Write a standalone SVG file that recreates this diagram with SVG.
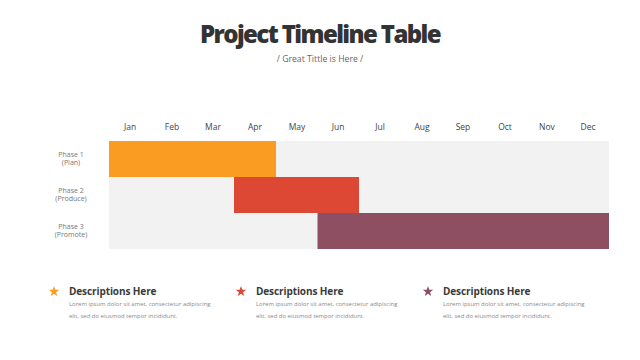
<svg xmlns="http://www.w3.org/2000/svg" width="640" height="360" viewBox="0 0 640 360">
<style>
.t{font-family:"Open Sans","Noto Sans",sans-serif}
.title{font-size:24px;font-weight:800;fill:#333;text-anchor:middle;letter-spacing:-1.6px}
.sub{font-size:8.7px;fill:#666;text-anchor:middle}
.mon{font-size:8.5px;fill:#444;text-anchor:middle}
.ph{font-size:7px;fill:#777;text-anchor:middle}
.dh{font-size:10px;font-weight:700;fill:#3a3a3a;letter-spacing:-0.1px}
.dt{font-size:5.95px;fill:#8a8a8a}
</style>
<defs>
<path id="star" d="M0,-5.5 L1.3,-1.8 L5.2,-1.7 L2.1,0.7 L3.2,4.5 L0,2.2 L-3.2,4.5 L-2.1,0.7 L-5.2,-1.7 L-1.3,-1.8 Z"/>
</defs>
<rect width="640" height="360" fill="#fff"/>
<g id="header">
<text class="t title" x="320" y="43">Project Timeline Table</text>
<text class="t sub" x="320" y="62">/ Great Tittle is Here /</text>
</g>
<g id="months">
<text class="t mon" x="130" y="130">Jan</text>
<text class="t mon" x="172" y="130">Feb</text>
<text class="t mon" x="213" y="130">Mar</text>
<text class="t mon" x="255" y="130">Apr</text>
<text class="t mon" x="297" y="130">May</text>
<text class="t mon" x="338" y="130">Jun</text>
<text class="t mon" x="380" y="130">Jul</text>
<text class="t mon" x="422" y="130">Aug</text>
<text class="t mon" x="463" y="130">Sep</text>
<text class="t mon" x="505" y="130">Oct</text>
<text class="t mon" x="547" y="130">Nov</text>
<text class="t mon" x="588" y="130">Dec</text>
</g>
<g id="grid">
<rect x="109" y="141" width="500" height="108" fill="#f2f2f2"/>
</g>
<g id="phase1">
<text class="t ph" x="71" y="157">Phase 1</text>
<text class="t ph" x="71" y="165">(Plan)</text>
<rect x="109" y="141" width="167" height="36" fill="#fa9c22"/>
</g>
<g id="phase2">
<text class="t ph" x="71" y="193">Phase 2</text>
<text class="t ph" x="71" y="201">(Produce)</text>
<rect x="234" y="177" width="125" height="36" fill="#dc4833"/>
</g>
<g id="phase3">
<text class="t ph" x="71" y="229">Phase 3</text>
<text class="t ph" x="71" y="237">(Promote)</text>
<rect x="317.5" y="213" width="291.5" height="36" fill="#8e4f63"/>
</g>
<g id="desc1">
<use href="#star" x="54" y="291.5" fill="#fa9c22"/>
<text class="t dh" x="69" y="295">Descriptions Here</text>
<text class="t dt" x="69" y="306">Lorem ipsum dolor sit amet, consectetur adipiscing</text>
<text class="t dt" x="69" y="318">elit, sed do eiusmod tempor incididunt.</text>
</g>
<g id="desc2">
<use href="#star" x="241" y="291.5" fill="#dc4833"/>
<text class="t dh" x="256" y="295">Descriptions Here</text>
<text class="t dt" x="256" y="306">Lorem ipsum dolor sit amet, consectetur adipiscing</text>
<text class="t dt" x="256" y="318">elit, sed do eiusmod tempor incididunt.</text>
</g>
<g id="desc3">
<use href="#star" x="428" y="291.5" fill="#8e4f63"/>
<text class="t dh" x="443" y="295">Descriptions Here</text>
<text class="t dt" x="443" y="306">Lorem ipsum dolor sit amet, consectetur adipiscing</text>
<text class="t dt" x="443" y="318">elit, sed do eiusmod tempor incididunt.</text>
</g>
</svg>
